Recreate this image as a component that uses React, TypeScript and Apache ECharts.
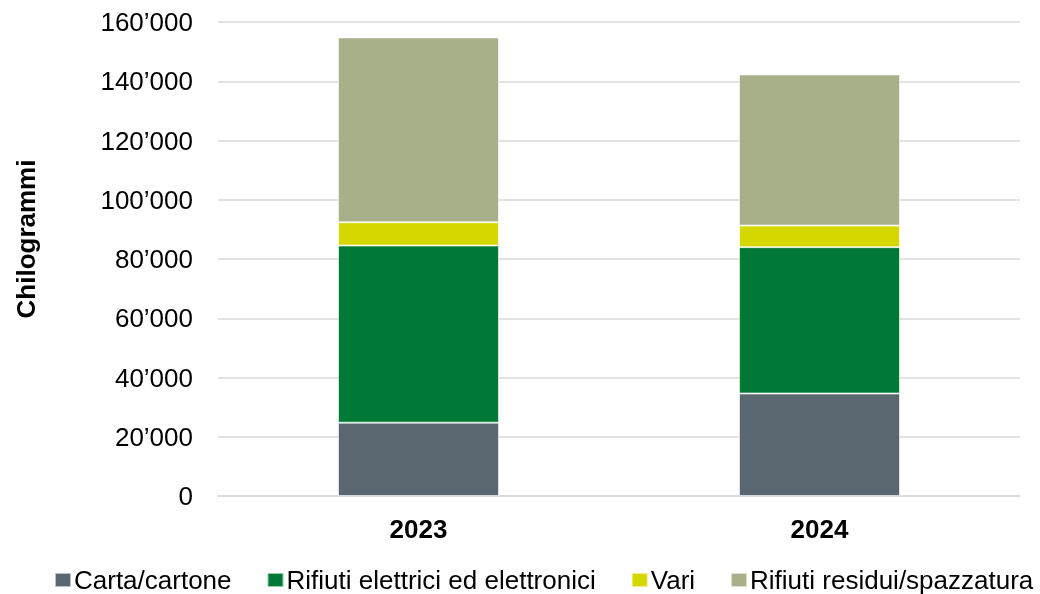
import React, { useEffect, useRef } from "react";
import * as echarts from "echarts";

const categories = ["2023", "2024"];
const cartaCartone = [24750, 34600];
const rifiutiElettrici = [59800, 49400];
const vari = [7850, 7300];
const rifiutiResidui = [62400, 51000];
const seriesNames = [
  "Carta/cartone",
  "Rifiuti elettrici ed elettronici",
  "Vari",
  "Rifiuti residui/spazzatura",
];
const colors = ["#5b6770", "#007934", "#d4d700", "#a8b08a"];

const fmt = (v: number) => String(v).replace(/\B(?=(\d{3})+(?!\d))/g, "\u2019");

export default function App() {
  const ref = useRef<HTMLDivElement>(null);
  useEffect(() => {
    if (!ref.current) return;
    const chart = echarts.init(ref.current, null, { renderer: "svg" });
    const font = "Liberation Sans, Arial, sans-serif";
    const data = [cartaCartone, rifiutiElettrici, vari, rifiutiResidui];
    chart.setOption({
      animation: false,
      color: colors,
      grid: { left: 218, right: 20, top: 22, bottom: 98 },
      legend: {
        top: 567,
        left: 49,
        padding: [0, 5, 0, 5],
        itemWidth: 16,
        itemHeight: 14,
        itemGap: 35,
        icon: "rect",
        textStyle: { fontFamily: font, fontSize: 26, color: "#000", padding: [0, 0, 0, -2] },
        data: seriesNames,
      },
      graphic: [
        {
          type: "text",
          x: 26,
          y: 239,
          rotation: Math.PI / 2,
          style: {
            text: "Chilogrammi",
            font: `bold 26px ${font}`,
            fill: "#000",
            textAlign: "center",
            textVerticalAlign: "middle",
          },
        },
      ],
      xAxis: {
        type: "category",
        data: categories,
        axisLine: { lineStyle: { color: "#d9d9d9", width: 1.5 } },
        axisTick: { show: false },
        axisLabel: {
          fontFamily: font,
          fontSize: 26,
          fontWeight: "bold",
          color: "#000",
          margin: 20,
        },
      },
      yAxis: {
        type: "value",
        min: 0,
        max: 160000,
        interval: 20000,
        axisLine: { show: false },
        axisTick: { show: false },
        splitLine: { lineStyle: { color: "#d9d9d9", width: 1.5 } },
        axisLabel: {
          fontFamily: font,
          fontSize: 26,
          color: "#000",
          margin: 25,
          formatter: (v: number) => fmt(v),
        },
      },
      series: seriesNames.map((name, i) => ({
        name,
        type: "bar",
        stack: "total",
        barWidth: 161,
        data: data[i],
        itemStyle: { color: colors[i], borderColor: "rgba(255,255,255,0.6)", borderWidth: 1 },
      })),
    });
    return () => chart.dispose();
  }, []);
  return (
    <div
      ref={ref}
      style={{ position: "fixed", left: 0, top: 0, width: 1040, height: 594 }}
    />
  );
}
